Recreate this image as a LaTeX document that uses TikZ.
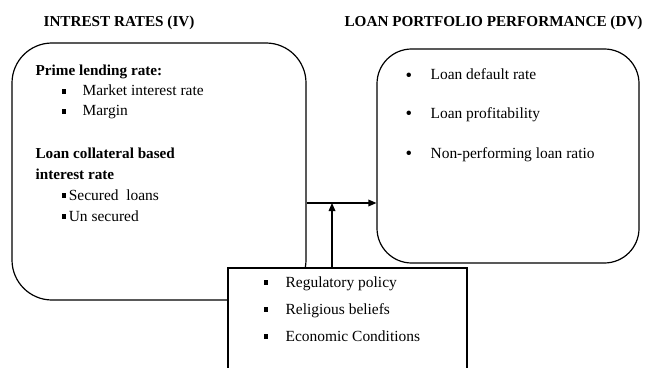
\documentclass[tikz,border=0pt]{standalone}
\usepackage{fontspec}
\setmainfont{Liberation Serif}
\usetikzlibrary{arrows.meta}
\newcommand\sqbul{\rule[1.6pt]{3.4pt}{3.4pt}}
\newcommand\rdbul{\raisebox{-1.4pt}{\fontsize{14}{14}\selectfont\textbullet}}
\begin{document}
\begin{tikzpicture}[x=0.75pt,y=-0.75pt,line width=0.9pt,
		txt/.style={anchor=base west,inner sep=0pt,font=\fontsize{11.6}{14}\selectfont},
		head/.style={txt,font=\fontsize{11.4}{14}\selectfont\bfseries},
		arr/.style={-{Triangle[length=6pt,width=5pt]}}]
			\useasboundingbox (0,0) rectangle (652,367);
			\node[draw,rounded corners=30pt,minimum width=220.5pt,minimum height=192.75pt] (iv) at (159,171.5) {};
			\node[draw,rounded corners=26pt,minimum width=196.5pt,minimum height=160.5pt] (dv) at (508,156) {};
			\node[draw,fill=white,minimum width=179.25pt,minimum height=76.5pt] (mod) at (347.5,319) {};
			\node[head] (ivtitle) at (43,27) {INTREST RATES (IV)};
			\node[head] (dvtitle) at (344,27) {LOAN PORTFOLIO PERFORMANCE (DV)};
			\node[head] (prime) at (35,76) {Prime lending rate:};
			\node[txt] (market) at (61,96) {\makebox[15.75pt][l]{\sqbul}Market interest rate};
			\node[txt] (margin) at (61,116) {\makebox[15.75pt][l]{\sqbul}Margin};
			\node[head] (collat) at (35,158) {Loan collateral based};
			\node[head] (collatb) at (35,179) {interest rate};
			\node[txt] (secured) at (61,200) {\sqbul\hspace{2pt}Secured\ \ loans};
			\node[txt] (unsecured) at (61,221) {\sqbul\hspace{2pt}Un secured};
			\node[txt] (default) at (405,80) {\makebox[18.75pt][l]{\rdbul}Loan default rate};
			\node[txt] (profit) at (405,118) {\makebox[18.75pt][l]{\rdbul}Loan profitability};
			\node[txt] (npl) at (405,158) {\makebox[18.75pt][l]{\rdbul}Non-performing loan ratio};
			\node[txt] (policy) at (263,287) {\makebox[16.5pt][l]{\sqbul}Regulatory policy};
			\node[txt] (belief) at (263,314) {\makebox[16.5pt][l]{\sqbul}Religious beliefs};
			\node[txt] (econ) at (263,341) {\makebox[16.5pt][l]{\sqbul}Economic Conditions};
			\coordinate (J) at (332,203);
			\draw[arr] (iv.east |- J) -- (dv.west |- J);
			\draw[arr] (mod.north -| J) -- (J);
		\end{tikzpicture}
\end{document}
